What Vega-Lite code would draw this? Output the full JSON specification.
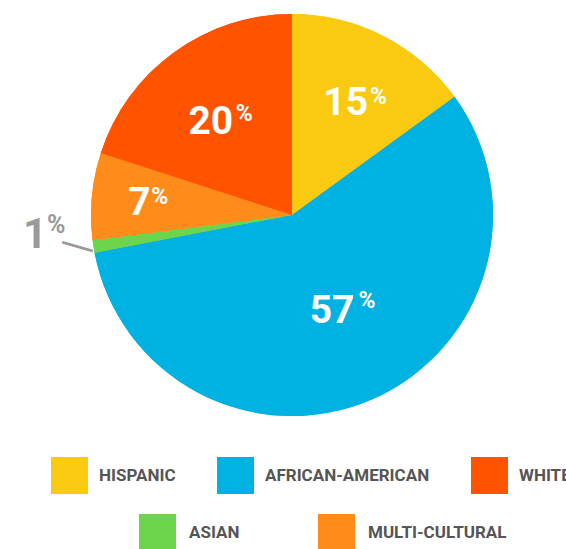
{
  "$schema": "https://vega.github.io/schema/vega-lite/v6.json",
  "width": 548,
  "height": 430,
  "padding": {"left": 18, "top": 0, "right": 0, "bottom": 119},
  "autosize": {"type": "none"},
  "background": "white",
  "config": {"view": {"stroke": null}, "font": "Roboto"},
  "data": {
    "values": [
      {"cat": "HISPANIC", "value": 15, "num": "15", "idx": 1},
      {"cat": "AFRICAN-AMERICAN", "value": 57, "num": "57", "idx": 2},
      {"cat": "ASIAN", "value": 1, "num": "1", "idx": 3},
      {"cat": "MULTI-CULTURAL", "value": 7, "num": "7", "idx": 4},
      {"cat": "WHITE", "value": 20, "num": "20", "idx": 5}
    ]
  },
  "encoding": {
    "theta": {"field": "value", "type": "quantitative", "stack": true},
    "order": {"field": "idx", "type": "quantitative"},
    "detail": {"field": "cat", "type": "nominal"}
  },
  "layer": [
    {
      "mark": {"type": "arc", "outerRadius": 201, "strokeWidth": 0},
      "encoding": {
        "color": {
          "field": "cat", "type": "nominal",
          "scale": {
            "domain": ["ASIAN", "MULTI-CULTURAL", "HISPANIC", "AFRICAN-AMERICAN", "WHITE"],
            "range": ["#6DD54B", "#FF8C1A", "#F9CA10", "#00B2E2", "#FF5300"]
          },
          "legend": {
            "values": ["ASIAN", "MULTI-CULTURAL"],
            "orient": "none", "legendX": 121, "legendY": 514,
            "direction": "horizontal", "title": null,
            "symbolType": "square", "symbolSize": 1369, "symbolStrokeWidth": 0, "symbolOpacity": 1,
            "labelFont": "Roboto", "labelFontSize": 17, "labelFontWeight": "bold", "labelColor": "#555555",
            "labelOffset": 13, "columnPadding": 78, "padding": 0, "labelLimit": 300
          }
        }
      }
    },
    {
      "mark": {"type": "arc", "outerRadius": 201, "strokeWidth": 0},
      "encoding": {
        "fill": {
          "field": "cat", "type": "nominal",
          "scale": {
            "domain": ["HISPANIC", "AFRICAN-AMERICAN", "WHITE", "ASIAN", "MULTI-CULTURAL"],
            "range": ["#F9CA10", "#00B2E2", "#FF5300", "#6DD54B", "#FF8C1A"]
          },
          "legend": {
            "values": ["HISPANIC", "AFRICAN-AMERICAN", "WHITE"],
            "orient": "none", "legendX": 33, "legendY": 457,
            "direction": "horizontal", "title": null,
            "symbolType": "square", "symbolSize": 1369, "symbolStrokeWidth": 0, "symbolOpacity": 1,
            "labelFont": "Roboto", "labelFontSize": 17, "labelFontWeight": "bold", "labelColor": "#555555",
            "labelOffset": 11, "columnPadding": 41, "padding": 0, "labelLimit": 300
          }
        }
      }
    },
    {
      "mark": {"type": "text", "radius": 130, "dx": 17, "dy": 16, "align": "right", "baseline": "alphabetic", "font": "Roboto", "fontWeight": "bold", "fontSize": 39, "fill": "white"},
      "encoding": {"text": {"condition": {"test": "datum.cat === 'HISPANIC'", "field": "num", "type": "nominal"}, "value": ""}}
    },
    {
      "mark": {"type": "text", "radius": 130, "dx": 19, "dy": 5, "align": "left", "baseline": "alphabetic", "font": "Roboto", "fontWeight": "bold", "fontSize": 23, "fill": "white"},
      "encoding": {"text": {"condition": {"test": "datum.cat === 'HISPANIC'", "value": "%"}, "value": ""}}
    },
    {
      "mark": {"type": "text", "radius": 118, "dx": 10.5, "dy": 14.5, "align": "right", "baseline": "alphabetic", "font": "Roboto", "fontWeight": "bold", "fontSize": 39, "fill": "white"},
      "encoding": {"text": {"condition": {"test": "datum.cat === 'WHITE'", "field": "num", "type": "nominal"}, "value": ""}}
    },
    {
      "mark": {"type": "text", "radius": 118, "dx": 13, "dy": 1.5, "align": "left", "baseline": "alphabetic", "font": "Roboto", "fontWeight": "bold", "fontSize": 23, "fill": "white"},
      "encoding": {"text": {"condition": {"test": "datum.cat === 'WHITE'", "value": "%"}, "value": ""}}
    },
    {
      "mark": {"type": "text", "radius": 144, "dx": 2, "dy": 14, "align": "right", "baseline": "alphabetic", "font": "Roboto", "fontWeight": "bold", "fontSize": 39, "fill": "white"},
      "encoding": {"text": {"condition": {"test": "datum.cat === 'MULTI-CULTURAL'", "field": "num", "type": "nominal"}, "value": ""}}
    },
    {
      "mark": {"type": "text", "radius": 144, "dx": 2.5, "dy": 3, "align": "left", "baseline": "alphabetic", "font": "Roboto", "fontWeight": "bold", "fontSize": 23, "fill": "white"},
      "encoding": {"text": {"condition": {"test": "datum.cat === 'MULTI-CULTURAL'", "value": "%"}, "value": ""}}
    },
    {
      "mark": {"type": "text", "radius": 107, "dx": 20, "dy": 10, "align": "right", "baseline": "alphabetic", "font": "Roboto", "fontWeight": "bold", "fontSize": 39, "fill": "white"},
      "encoding": {"text": {"condition": {"test": "datum.cat === 'AFRICAN-AMERICAN'", "field": "num", "type": "nominal"}, "value": ""}}
    },
    {
      "mark": {"type": "text", "radius": 107, "dx": 24, "dy": -5, "align": "left", "baseline": "alphabetic", "font": "Roboto", "fontWeight": "bold", "fontSize": 23, "fill": "white"},
      "encoding": {"text": {"condition": {"test": "datum.cat === 'AFRICAN-AMERICAN'", "value": "%"}, "value": ""}}
    },
    {
      "mark": {"type": "text", "radius": 245, "dx": -27, "dy": -5, "align": "left", "baseline": "alphabetic", "font": "Roboto", "fontWeight": "bold", "fontSize": 42, "fill": "#9A9A9A"},
      "encoding": {"text": {"condition": {"test": "datum.cat === 'ASIAN'", "field": "num", "type": "nominal"}, "value": ""}}
    },
    {
      "mark": {"type": "text", "radius": 245, "dx": -3, "dy": -20, "align": "left", "baseline": "alphabetic", "font": "Roboto", "fontWeight": "bold", "fontSize": 25, "fill": "#9A9A9A"},
      "encoding": {"text": {"condition": {"test": "datum.cat === 'ASIAN'", "value": "%"}, "value": ""}}
    },
    {
      "mark": {"type": "text", "radius": 218, "angle": 16, "dy": 7, "align": "center", "baseline": "alphabetic", "font": "DejaVu Sans", "fontSize": 35, "fill": "#999999"},
      "encoding": {"text": {"condition": {"test": "datum.cat === 'ASIAN'", "value": "—"}, "value": ""}}
    }
  ]
}
